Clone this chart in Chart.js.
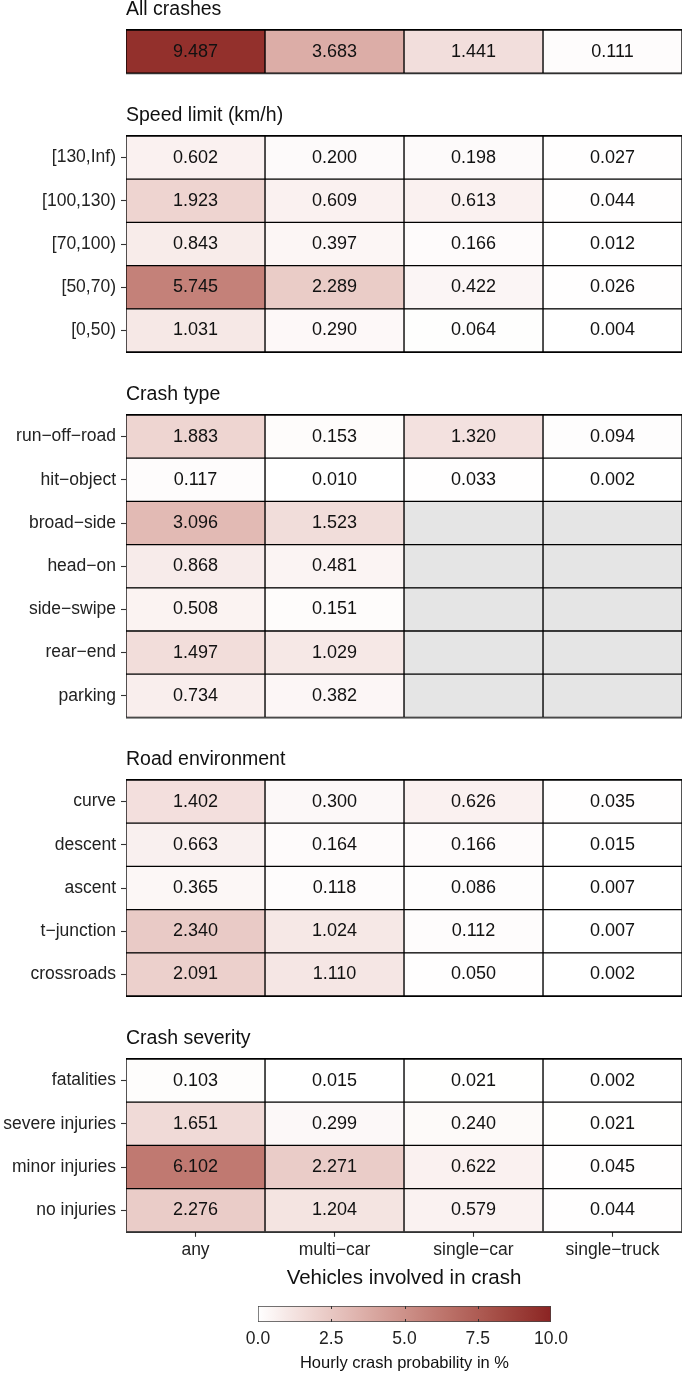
<!DOCTYPE html>
<html lang="en">
<head>
    <meta charset="UTF-8">
    <title>Hourly crash probability</title>
    <script src="https://cdn.jsdelivr.net/npm/chart.js"></script>
    <style>
        body { margin: 0; background: #fff; }
        #wrap { position: relative; width: 685px; height: 1381px; overflow: hidden; }
        #wrap canvas { position: absolute; left: 0; }
    </style>
</head>
<body>
    <div id="wrap"></div>

    <script>
        // columns (vehicles involved in crash)
        const vehicles = ['any', 'multi−car', 'single−car', 'single−truck'];

        // hourly crash probability in %, one row per category, columns as above
        const allRows = [''];
        const allValues = [[9.487, 3.683, 1.441, 0.111]];

        const speedRows = ['[130,Inf)', '[100,130)', '[70,100)', '[50,70)', '[0,50)'];
        const speedValues = [
            [0.602, 0.200, 0.198, 0.027],
            [1.923, 0.609, 0.613, 0.044],
            [0.843, 0.397, 0.166, 0.012],
            [5.745, 2.289, 0.422, 0.026],
            [1.031, 0.290, 0.064, 0.004]
        ];

        const crashTypeRows = ['run−off−road', 'hit−object', 'broad−side', 'head−on', 'side−swipe', 'rear−end', 'parking'];
        const crashTypeValues = [
            [1.883, 0.153, 1.320, 0.094],
            [0.117, 0.010, 0.033, 0.002],
            [3.096, 1.523, null, null],
            [0.868, 0.481, null, null],
            [0.508, 0.151, null, null],
            [1.497, 1.029, null, null],
            [0.734, 0.382, null, null]
        ];

        const roadRows = ['curve', 'descent', 'ascent', 't−junction', 'crossroads'];
        const roadValues = [
            [1.402, 0.300, 0.626, 0.035],
            [0.663, 0.164, 0.166, 0.015],
            [0.365, 0.118, 0.086, 0.007],
            [2.340, 1.024, 0.112, 0.007],
            [2.091, 1.110, 0.050, 0.002]
        ];

        const severityRows = ['fatalities', 'severe injuries', 'minor injuries', 'no injuries'];
        const severityValues = [
            [0.103, 0.015, 0.021, 0.002],
            [1.651, 0.299, 0.240, 0.021],
            [6.102, 2.271, 0.622, 0.045],
            [2.276, 1.204, 0.579, 0.044]
        ];

        const scaleMax = 10;
        const legendTicks = [0, 2.5, 5, 7.5, 10];

        const panels = [
            { title: 'All crashes', rows: allRows, values: allValues, top: 0 },
            { title: 'Speed limit (km/h)', rows: speedRows, values: speedValues, top: 106 },
            { title: 'Crash type', rows: crashTypeRows, values: crashTypeValues, top: 385 },
            { title: 'Road environment', rows: roadRows, values: roadValues, top: 750 },
            { title: 'Crash severity', rows: severityRows, values: severityValues, top: 1029, showX: true }
        ];

        const ROW_H = 43.2, HEAD = 30, AXIS_H = 59, LEFT = 126;
        const FONT = '"Liberation Sans", Arial, Helvetica, sans-serif';
        Chart.defaults.font.family = FONT;
        Chart.defaults.color = '#222';

        // white -> brown4 gradient, interpolated in CIE Lab like ggplot
        function toLin(c) { c /= 255; return c <= 0.04045 ? c / 12.92 : Math.pow((c + 0.055) / 1.055, 2.4); }
        function toSrgb(c) {
            c = c <= 0.0031308 ? 12.92 * c : 1.055 * Math.pow(c, 1 / 2.4) - 0.055;
            return Math.round(Math.min(1, Math.max(0, c)) * 255);
        }
        function toLab(rgb) {
            const [r, g, b] = rgb.map(toLin);
            const X = (0.4124 * r + 0.3576 * g + 0.1805 * b) / 0.95047;
            const Y = 0.2126 * r + 0.7152 * g + 0.0722 * b;
            const Z = (0.0193 * r + 0.1192 * g + 0.9505 * b) / 1.08883;
            const f = t => t > 0.008856 ? Math.cbrt(t) : 7.787 * t + 16 / 116;
            return [116 * f(Y) - 16, 500 * (f(X) - f(Y)), 200 * (f(Y) - f(Z))];
        }
        function fromLab([L, a, bb]) {
            const fy = (L + 16) / 116, fx = fy + a / 500, fz = fy - bb / 200;
            const inv = t => t * t * t > 0.008856 ? t * t * t : (t - 16 / 116) / 7.787;
            const X = inv(fx) * 0.95047, Y = inv(fy), Z = inv(fz) * 1.08883;
            return [
                toSrgb(3.2406 * X - 1.5372 * Y - 0.4986 * Z),
                toSrgb(-0.9689 * X + 1.8758 * Y + 0.0415 * Z),
                toSrgb(0.0557 * X - 0.2040 * Y + 1.0570 * Z)
            ];
        }
        const LOW = toLab([255, 255, 255]), HIGH = toLab([139, 35, 35]);
        function fillFor(v) {
            if (v == null) return '#e5e5e5';
            const t = Math.min(1, Math.max(0, v / scaleMax));
            const [r, g, b] = fromLab(LOW.map((l, i) => l + (HIGH[i] - l) * t));
            return `rgb(${r},${g},${b})`;
        }

        // numbers in the cells + top/bottom frame of each panel
        const cellLabels = {
            id: 'cellLabels',
            afterDatasetsDraw(chart, args, opts) {
                const { ctx, chartArea: a } = chart;
                const x = chart.scales.x, y = chart.scales.y;
                ctx.save();
                ctx.font = '18px ' + FONT;
                ctx.fillStyle = '#111';
                ctx.textAlign = 'center';
                ctx.textBaseline = 'middle';
                opts.values.forEach((row, r) => row.forEach((v, c) => {
                    if (v == null) return;
                    ctx.fillText(v.toFixed(3), x.getPixelForValue(c + 0.5), y.getPixelForValue(r));
                }));
                ctx.fillStyle = '#000';
                ctx.fillRect(a.left, a.top - 1, a.right - a.left, 1);
                ctx.fillRect(a.left, a.bottom, a.right - a.left, 1);
                ctx.restore();
            }
        };

        const wrap = document.getElementById('wrap');

        function addCanvas(top, height) {
            const cv = document.createElement('canvas');
            cv.width = 685;
            cv.height = height;
            cv.style.top = top + 'px';
            wrap.appendChild(cv);
            return cv;
        }

        panels.forEach(p => {
            const inner = HEAD + p.rows.length * ROW_H + (p.showX ? AXIS_H : 0);
            const h = Math.round(inner + (p.showX ? 0 : 2));
            const padBottom = h - inner;
            const hasLabels = p.rows.length > 1;

            new Chart(addCanvas(p.top, h), {
                type: 'bar',
                data: {
                    labels: p.rows,
                    datasets: vehicles.map((name, c) => ({
                        label: name,
                        data: p.rows.map(() => [c, c + 1]),
                        backgroundColor: p.values.map(row => fillFor(row[c])),
                        borderColor: '#000',
                        borderWidth: 1,
                        borderSkipped: false,
                        barPercentage: 1,
                        categoryPercentage: 1,
                        grouped: false
                    }))
                },
                options: {
                    indexAxis: 'y',
                    responsive: false,
                    animation: false,
                    layout: { padding: { left: 0, right: 3, top: 0, bottom: padBottom } },
                    plugins: {
                        legend: { display: false },
                        tooltip: { enabled: false },
                        title: {
                            display: true,
                            text: p.title,
                            align: 'start',
                            fullSize: false,
                            color: '#111',
                            font: { size: 19.5, weight: 'normal', lineHeight: 1 },
                            padding: { top: 0, bottom: HEAD - 19.5 }
                        },
                        cellLabels: { values: p.values }
                    },
                    scales: {
                        x: {
                            type: 'linear',
                            min: 0,
                            max: vehicles.length,
                            display: !!p.showX,
                            afterBuildTicks: s => { s.ticks = vehicles.map((_, i) => ({ value: i + 0.5 })); },
                            afterFit: s => {
                                s.height = p.showX ? AXIS_H : 0;
                                s.paddingLeft = 0;
                                s.paddingRight = 0;
                            },
                            ticks: {
                                callback: (v, i) => vehicles[i],
                                font: { size: 17.5 },
                                color: '#222',
                                padding: 2.5,
                                maxRotation: 0,
                                autoSkip: false
                            },
                            grid: { drawOnChartArea: false, tickLength: 5, tickColor: '#333', tickWidth: 1.1 },
                            border: { display: false },
                            title: {
                                display: true,
                                text: 'Vehicles involved in crash',
                                color: '#111',
                                font: { size: 20.5 },
                                padding: { top: 0, bottom: 0 }
                            }
                        },
                        y: {
                            type: 'category',
                            offset: true,
                            afterFit: s => {
                                s.width = LEFT;
                                s.paddingTop = 0;
                                s.paddingBottom = 0;
                            },
                            ticks: { display: hasLabels, font: { size: 17.5 }, color: '#222', padding: 5 },
                            grid: {
                                display: hasLabels,
                                drawOnChartArea: false,
                                offset: false,
                                tickLength: 5,
                                tickColor: '#333',
                                tickWidth: 1.1
                            },
                            border: { display: false }
                        }
                    }
                },
                plugins: [cellLabels]
            });
        });

        // colour bar legend
        const barTicks = {
            id: 'barTicks',
            afterDatasetsDraw(chart) {
                const { ctx, chartArea: a } = chart;
                const x = chart.scales.x;
                ctx.save();
                ctx.strokeStyle = '#333';
                ctx.lineWidth = 1;
                legendTicks.slice(1, -1).forEach(v => {
                    const px = Math.round(x.getPixelForValue(v)) + 0.5;
                    ctx.beginPath();
                    ctx.moveTo(px, a.top); ctx.lineTo(px, a.top + 3);
                    ctx.moveTo(px, a.bottom - 3); ctx.lineTo(px, a.bottom);
                    ctx.stroke();
                });
                ctx.restore();
            }
        };

        new Chart(addCanvas(1295, 86), {
            type: 'bar',
            data: {
                labels: [''],
                datasets: [{
                    data: [[0, scaleMax]],
                    backgroundColor: context => {
                        const chart = context.chart;
                        const a = chart.chartArea;
                        if (!a) return fillFor(scaleMax / 2);
                        const g = chart.ctx.createLinearGradient(a.left, 0, a.right, 0);
                        for (let i = 0; i <= 20; i++) g.addColorStop(i / 20, fillFor(scaleMax * i / 20));
                        return g;
                    },
                    borderColor: '#444',
                    borderWidth: 1,
                    borderSkipped: false,
                    barPercentage: 1,
                    categoryPercentage: 1
                }]
            },
            options: {
                indexAxis: 'y',
                responsive: false,
                animation: false,
                layout: { padding: { left: 258, right: 134, top: 11, bottom: 0 } },
                plugins: { legend: { display: false }, tooltip: { enabled: false } },
                scales: {
                    x: {
                        type: 'linear',
                        min: 0,
                        max: scaleMax,
                        afterBuildTicks: s => { s.ticks = legendTicks.map(v => ({ value: v })); },
                        afterFit: s => { s.height = 59; },
                        ticks: { callback: v => v.toFixed(1), font: { size: 17.5 }, color: '#222', padding: 6.5, maxRotation: 0 },
                        grid: { display: false, drawTicks: false, tickLength: 0 },
                        border: { display: false },
                        title: {
                            display: true,
                            text: 'Hourly crash probability in %',
                            color: '#111',
                            font: { size: 16.5 },
                            padding: { top: 0, bottom: 8 }
                        }
                    },
                    y: { display: false }
                }
            },
            plugins: [barTicks]
        });
    </script>
</body>
</html>
